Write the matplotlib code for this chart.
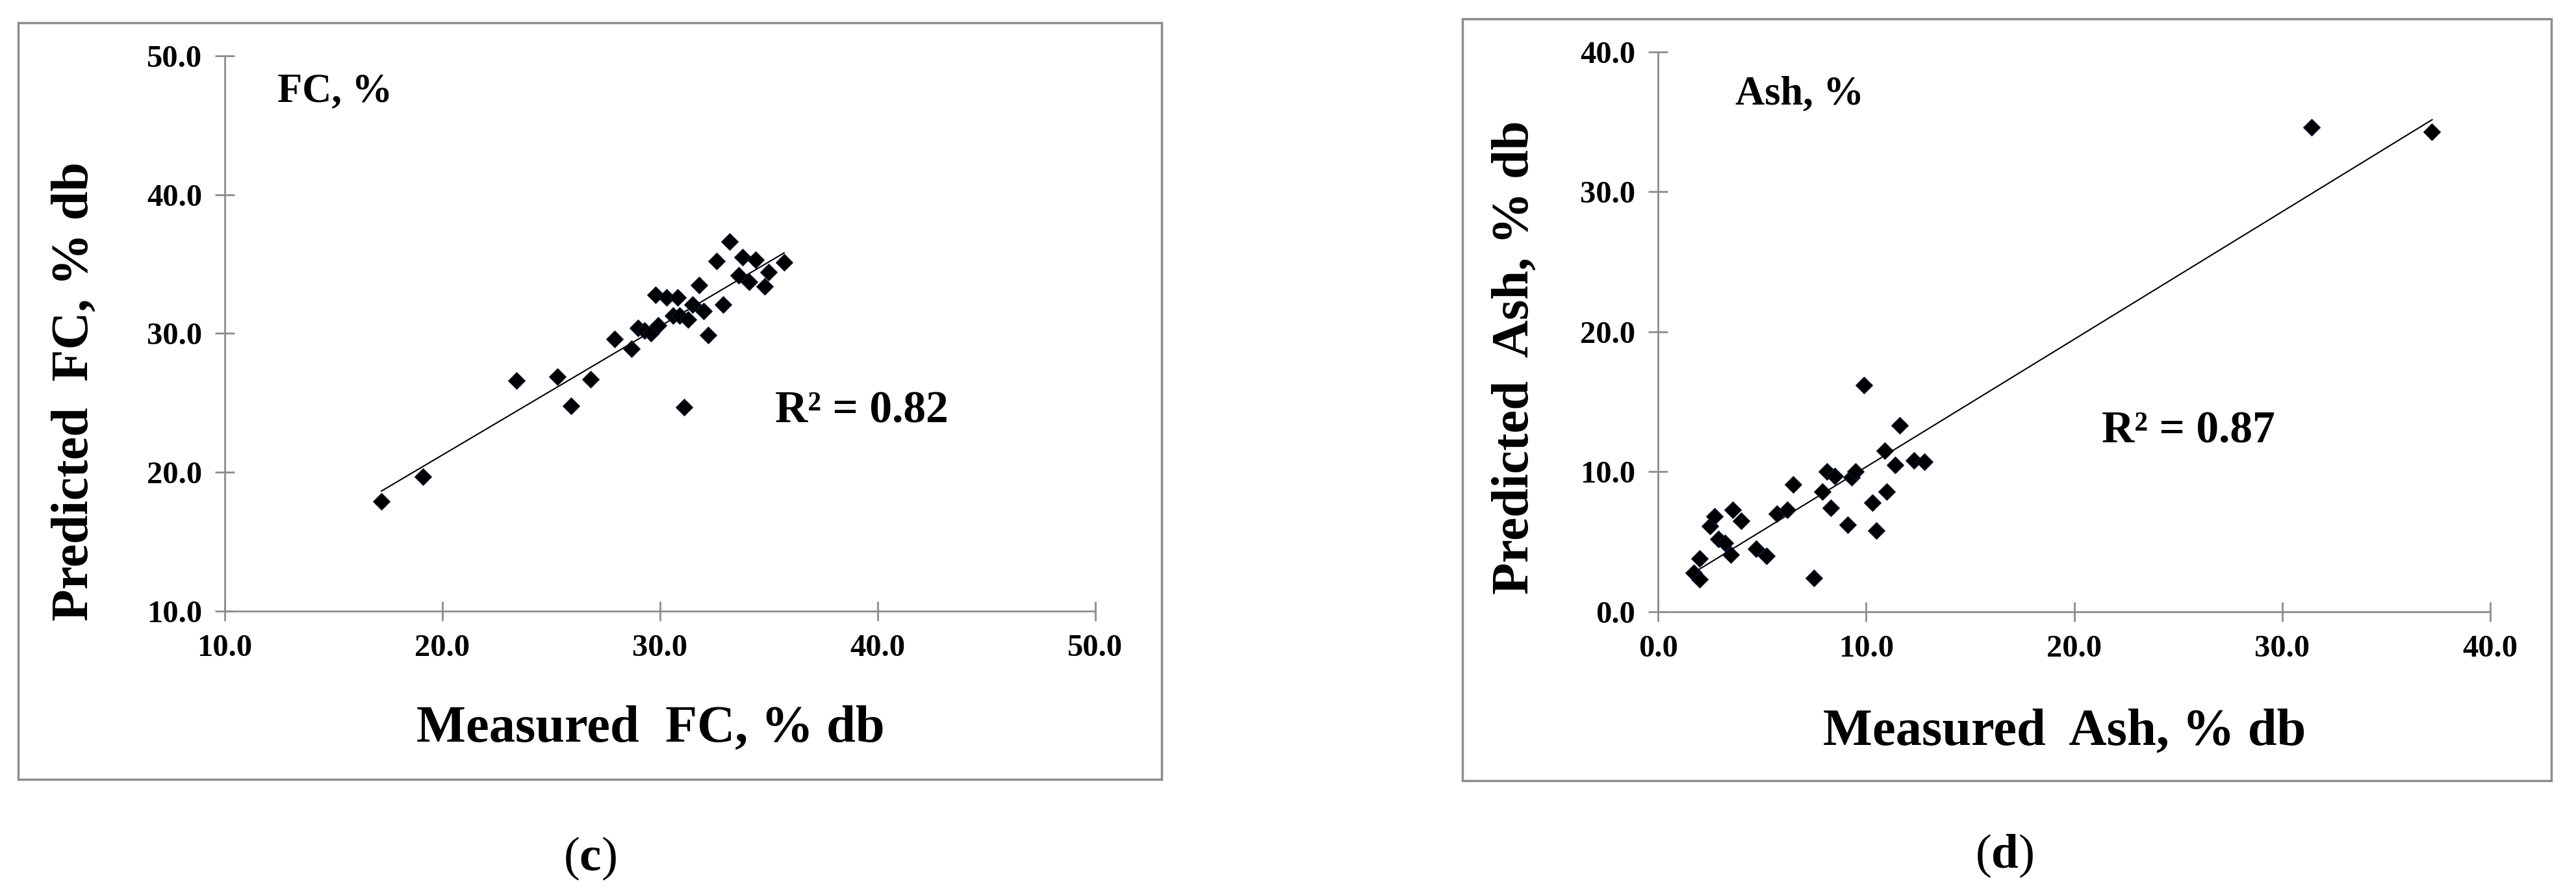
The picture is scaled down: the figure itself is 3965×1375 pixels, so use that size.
import matplotlib.pyplot as plt
from matplotlib.patches import Rectangle
import numpy as np

plt.rcParams['font.family'] = ['Liberation Serif', 'DejaVu Serif']
plt.rcParams['mathtext.fontset'] = 'custom'
plt.rcParams['mathtext.bf'] = 'Liberation Serif:bold'

# Panel (c): fixed carbon
fc_measured = [17.2, 19.1, 23.4, 25.3, 25.9, 26.8, 27.9, 28.7, 29.0, 29.3, 29.6, 29.8,
               29.9, 30.3, 30.6, 30.8, 30.9, 31.1, 31.3, 31.5, 31.8, 32.0, 32.2, 32.6,
               32.9, 33.2, 33.6, 33.8, 34.1, 34.4, 34.8, 35.0, 35.7]
fc_predicted = [17.9, 19.7, 26.6, 26.9, 24.8, 26.7, 29.6, 28.9, 30.4, 30.2, 30.0, 32.8,
                30.6, 32.6, 31.3, 32.6, 31.3, 24.7, 31.0, 32.1, 33.5, 31.6, 29.9, 35.2,
                32.1, 36.6, 34.2, 35.5, 33.7, 35.3, 33.4, 34.4, 35.1]
fc_r2 = 0.82

# Panel (d): ash
ash_measured = [1.7, 2.0, 2.0, 2.5, 2.7, 2.9, 3.2, 3.5, 3.6, 4.0, 4.7, 5.2, 5.7, 6.2,
                6.5, 7.5, 7.9, 8.1, 8.3, 8.5, 9.1, 9.3, 9.5, 9.9, 10.3, 10.5, 10.9,
                11.0, 11.4, 11.6, 12.3, 12.8, 31.4, 37.2]
ash_predicted = [2.8, 2.3, 3.8, 6.1, 6.8, 5.2, 4.9, 4.1, 7.3, 6.5, 4.5, 4.0, 7.0, 7.3,
                 9.1, 2.4, 8.6, 10.0, 7.4, 9.7, 6.2, 9.6, 10.0, 16.2, 7.8, 5.8, 11.5,
                 8.6, 10.5, 13.3, 10.8, 10.7, 34.6, 34.3]
ash_r2 = 0.87

fig = plt.figure(figsize=(39.66, 13.75), dpi=100)

# outer frames
for x0, y0, x1, y1 in [(0.0071, 0.1273, 0.4508, 0.9745), (0.5676, 0.1258, 0.9902, 0.9789)]:
    fig.add_artist(Rectangle((x0, y0), x1 - x0, y1 - y0, transform=fig.transFigure,
                             fill=False, edgecolor='#8c8c8c', linewidth=2.5))


def panel(rect, xs, ys, lim, ticks):
    ax = fig.add_axes(rect)
    ax.scatter(xs, ys, marker='D', s=170, color='black', edgecolors='#0a1a33', zorder=3)
    k, b = np.polyfit(xs, ys, 1)
    xx = np.array([min(xs), max(xs)])
    ax.plot(xx, k * xx + b, color='black', lw=1.5)
    ax.set_xlim(lim)
    ax.set_ylim(lim)
    ax.set_xticks(ticks)
    ax.set_yticks(ticks)
    ax.set_xticklabels([f'{t:.1f}' for t in ticks])
    ax.set_yticklabels([f'{t:.1f}' for t in ticks])
    for s in ['top', 'right']:
        ax.spines[s].set_visible(False)
    for s in ['left', 'bottom']:
        ax.spines[s].set_color('#8c8c8c')
        ax.spines[s].set_linewidth(2)
    ax.tick_params(direction='inout', length=22, width=2, color='#8c8c8c',
                   labelsize=35, pad=14)
    for lbl in ax.get_xticklabels() + ax.get_yticklabels():
        lbl.set_fontweight('bold')
    return ax


panel([0.0872, 0.3156, 0.3379, 0.622], fc_measured, fc_predicted,
      (10, 50), [10, 20, 30, 40, 50])
panel([0.6435, 0.315, 0.323, 0.627], ash_measured, ash_predicted,
      (0, 40), [0, 10, 20, 30, 40])

bold = dict(fontweight='bold', color='black')
fig.text(0.1077, 0.8967, 'FC, %', fontsize=45, va='center', **bold)
fig.text(0.3008, 0.539, f'R² = {fc_r2:.2f}', fontsize=50, va='center', **bold)
fig.text(0.029, 0.5615, 'Predicted  FC, % db', fontsize=58, rotation=90,
         ha='center', va='center', **bold)
fig.text(0.2524, 0.184, 'Measured  FC, % db', fontsize=58, ha='center', va='center', **bold)
fig.text(0.229, 0.0385, r'($\mathbf{c}$)', fontsize=54, ha='center', va='center')

fig.text(0.6735, 0.8938, 'Ash, %', fontsize=45, va='center', **bold)
fig.text(0.8157, 0.5164, f'R² = {ash_r2:.2f}', fontsize=50, va='center', **bold)
fig.text(0.588, 0.6, 'Predicted  Ash, % db', fontsize=58, rotation=90,
         ha='center', va='center', **bold)
fig.text(0.8013, 0.1804, 'Measured  Ash, % db', fontsize=58, ha='center', va='center', **bold)
fig.text(0.7779, 0.0415, r'($\mathbf{d}$)', fontsize=54, ha='center', va='center')

fig.savefig('out.png', dpi=100)
